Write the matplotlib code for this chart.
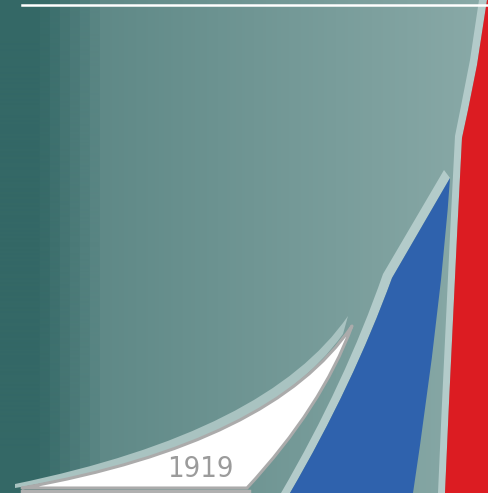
import numpy as np
import matplotlib
matplotlib.use('Agg')
import matplotlib.pyplot as plt
from matplotlib.path import Path
from matplotlib.patches import PathPatch

W, H = 489, 493

# background gradient: stepped bands on the left, smooth after that
band_x = [0, 40, 50, 60, 70, 80, 90, 100]
band_col = [(52,104,102), (56,107,105), (62,112,110), (69,117,115),
            (75,122,120), (81,127,125), (88,132,130), (95,137,135)]
right_col = (138, 170, 168)

year_label = "1919"

# outlines as (point, path code) pairs; Q = quadratic bezier control+end
M, L, Q, C = Path.MOVETO, Path.LINETO, Path.CURVE3, Path.CLOSEPOLY

# white wing: curved top edge to the tip, curved right edge back down
white_pts = [(22, 488), (273, 443), (352, 326), (322, 407), (247, 488), (22, 488)]
white_codes = [M, Q, Q, Q, Q, C]

# light band over the white wing
wband_pts = [(15, 484), (268, 432), (348, 316), (343, 334), (262, 448), (15, 488), (15, 484)]
wband_codes = [M, Q, Q, L, Q, Q, C]

# blue sail
blue_pts = [(290, 493), (353, 385), (392, 278), (450, 178),
            (442, 300), (413, 493), (290, 493)]
blue_codes = [M, Q, Q, L, Q, Q, C]

# light band left of the blue sail
bband_pts = [(281, 493), (345, 383), (383, 274), (444, 170), (450, 178),
             (392, 278), (353, 385), (290, 493), (281, 493)]
bband_codes = [M, Q, Q, L, L, L, Q, Q, C]

# red stripe, kink near y=135 then slanting to the top right corner
red_pts = [(445, 493), (452, 330), (462, 138), (468, 110), (477, 65), (487, 0),
           (489, 0), (489, 493), (445, 493)]
red_codes = [M, Q, Q, L, L, L, L, L, C]

# light band left of the red stripe
rband_pts = [(438, 493), (445, 330), (455, 136), (461, 106), (470, 60), (479, 0),
             (487, 0), (477, 65), (468, 110), (462, 138), (452, 330), (445, 493), (438, 493)]
rband_codes = [M, Q, Q, L, L, L, L, L, L, L, Q, Q, C]

fig = plt.figure(figsize=(W / 100, H / 100), dpi=100)
ax = fig.add_axes([0, 0, 1, 1])
ax.set_xlim(0, W)
ax.set_ylim(H, 0)
ax.axis('off')

cols = np.zeros((1, W, 3))
for i in range(W):
    if i < band_x[-1]:
        k = np.searchsorted(band_x, i, side='right') - 1
        c = band_col[k]
    else:
        t = (i - band_x[-1]) / (W - band_x[-1])
        c = [band_col[-1][j] + t * (right_col[j] - band_col[-1][j]) for j in range(3)]
    cols[0, i] = np.array(c) / 255
ax.imshow(cols, extent=(0, W, H, 0), aspect='auto', zorder=0)

light = '#b3cbca'

def shape(pts, codes, **kw):
    ax.add_patch(PathPatch(Path(pts, codes), **kw))

shape(wband_pts, wband_codes, facecolor='#a9c3c1', lw=0, zorder=2)
shape(white_pts, white_codes, facecolor='white', edgecolor='#ababab', lw=2.2, zorder=3, joinstyle='round')
ax.plot([22, 249], [490.5, 490.5], color='#b0b0b0', lw=2.5, zorder=3)

shape(bband_pts, bband_codes, facecolor=light, lw=0, zorder=2)
shape(blue_pts, blue_codes, facecolor='#2f62ad', lw=0, zorder=3)

shape(rband_pts, rband_codes, facecolor=light, lw=0, zorder=2)
shape(red_pts, red_codes, facecolor='#dc1c22', lw=0, zorder=3)

ax.plot([22, W], [5, 5], color='white', lw=1.8, zorder=4)

ax.text(200, 469, year_label, color='#9b9b9b', fontsize=21, ha='center', va='center',
        family='DejaVu Sans', fontstretch='condensed', zorder=5)

fig.savefig('out.png', dpi=100)
